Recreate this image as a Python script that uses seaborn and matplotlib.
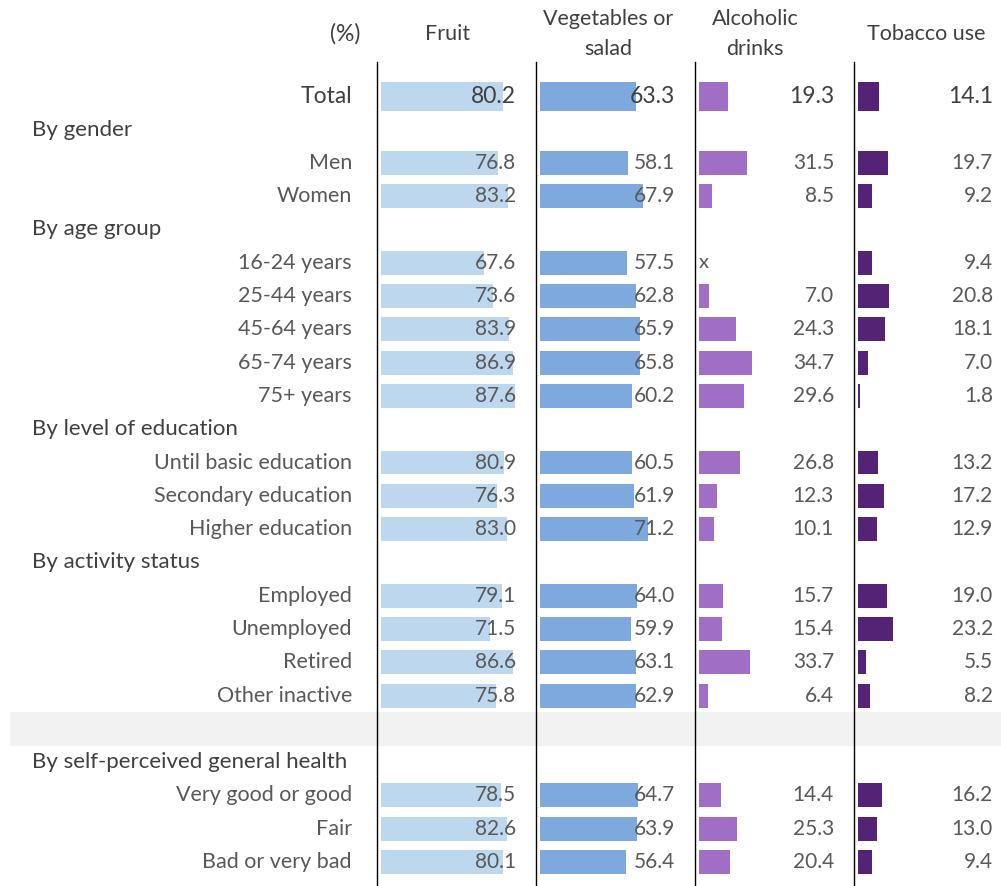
import numpy as np
import pandas as pd
import matplotlib
matplotlib.use("Agg")
import matplotlib.pyplot as plt
import seaborn as sns
from matplotlib.transforms import blended_transform_factory

sns.set_theme(style="white")
plt.rcParams["font.family"] = ["Lato", "DejaVu Sans"]

# ---- data -------------------------------------------------------------
categories = [
    "Total",
    "Men", "Women",
    "16-24 years", "25-44 years", "45-64 years", "65-74 years", "75+ years",
    "Until basic education", "Secondary education", "Higher education",
    "Employed", "Unemployed", "Retired", "Other inactive",
    "Very good or good", "Fair", "Bad or very bad",
]
fruit = [80.2, 76.8, 83.2, 67.6, 73.6, 83.9, 86.9, 87.6, 80.9, 76.3, 83.0,
         79.1, 71.5, 86.6, 75.8, 78.5, 82.6, 80.1]
vegetables = [63.3, 58.1, 67.9, 57.5, 62.8, 65.9, 65.8, 60.2, 60.5, 61.9, 71.2,
              64.0, 59.9, 63.1, 62.9, 64.7, 63.9, 56.4]
alcohol = [19.3, 31.5, 8.5, np.nan, 7.0, 24.3, 34.7, 29.6, 26.8, 12.3, 10.1,
           15.7, 15.4, 33.7, 6.4, 14.4, 25.3, 20.4]
tobacco = [14.1, 19.7, 9.2, 9.4, 20.8, 18.1, 7.0, 1.8, 13.2, 17.2, 12.9,
           19.0, 23.2, 5.5, 8.2, 16.2, 13.0, 9.4]

column_titles = ["Fruit", "Vegetables or\nsalad", "Alcoholic\ndrinks", "Tobacco use"]
unit_label = "(%)"

# grouping: heading followed by its rows
groups = [
    (None, ["Total"]),
    ("By gender", ["Men", "Women"]),
    ("By age group", ["16-24 years", "25-44 years", "45-64 years", "65-74 years", "75+ years"]),
    ("By level of education", ["Until basic education", "Secondary education", "Higher education"]),
    ("By activity status", ["Employed", "Unemployed", "Retired", "Other inactive"]),
    ("", []),  # shaded separator row
    ("By self-perceived general health", ["Very good or good", "Fair", "Bad or very bad"]),
]

# ---- layout of the row axis -------------------------------------------
order = []
heading_rows = []
separator_rows = []
for head, members in groups:
    if head is not None:
        if head:
            heading_rows.append((len(order), head))
            order.append(head)
        else:
            separator_rows.append(len(order))
            order.append("__sep__")
    order.extend(members)

df = pd.DataFrame({"row": categories, "Fruit": fruit, "Vegetables": vegetables,
                   "Alcohol": alcohol, "Tobacco": tobacco})

series_cols = ["Fruit", "Vegetables", "Alcohol", "Tobacco"]
colors = ["#BDD7EE", "#7DA9DE", "#A06EC4", "#542375"]

TEXT = "#595959"
DARK = "#404040"

W, H = 1001, 886
fig = plt.figure(figsize=(W / 100, H / 100), dpi=100)
fig.patch.set_facecolor("white")

top_px = 62
ax_h = (H - top_px) / H
ylim = (len(order) - 1 + 0.72, -1.03)

# background axis for row labels and the shaded separator
bg = fig.add_axes([0, 0, 1, ax_h])
bg.set_xlim(0, W)
bg.set_ylim(*ylim)
bg.axis("off")
for r in separator_rows:
    bg.axhspan(r - 0.51, r + 0.51, xmin=10 / W, xmax=1, color="#F2F2F2", lw=0, zorder=0)
for r, head in heading_rows:
    bg.text(32, r, head, ha="left", va="center", fontsize=16, color=DARK)
for i, name in enumerate(order):
    if name in categories:
        is_total = name == "Total"
        bg.text(352, i, name, ha="right", va="center",
                fontsize=16.5 if is_total else 15.5,
                color=DARK if is_total else TEXT)

# ---- one panel per indicator ------------------------------------------
panel_left = [377, 536, 695, 854]
panel_w = 159
px_per_pct = 1.53
x0 = -3.5 / px_per_pct
x1 = (panel_w - 3.5) / px_per_pct

for col, color, left in zip(series_cols, colors, panel_left):
    ax = fig.add_axes([left / W, 0, panel_w / W, ax_h])
    ax.set_facecolor("none")
    sub = df.dropna(subset=[col])
    sns.barplot(data=sub[sub["row"] != "Total"], x=col, y="row", order=order,
                orient="h", color=color, saturation=1, width=0.72,
                errorbar=None, ax=ax, linewidth=0)
    sns.barplot(data=sub[sub["row"] == "Total"], x=col, y="row", order=order,
                orient="h", color=color, saturation=1, width=0.87,
                errorbar=None, ax=ax, linewidth=0)
    ax.set_xlim(x0, x1)
    ax.set_ylim(*ylim)
    ax.set_xlabel("")
    ax.set_ylabel("")
    ax.set_xticks([])
    ax.set_yticks([])
    for s in ["top", "right", "bottom"]:
        ax.spines[s].set_visible(False)
    ax.spines["left"].set_color("black")
    ax.spines["left"].set_linewidth(1.0)

    tr = blended_transform_factory(ax.transAxes, ax.transData)
    for name, val in zip(df["row"], df[col]):
        i = order.index(name)
        is_total = name == "Total"
        if np.isnan(val):
            ax.text(0, i, "x", ha="left", va="center", fontsize=14.5, color=TEXT)
            continue
        ax.text(139 / panel_w, i, f"{val:.1f}", transform=tr, ha="right",
                va="center", fontsize=16.5 if is_total else 15,
                color=DARK if is_total else TEXT, zorder=5)

# ---- column headers ----------------------------------------------------
header_y = 1 - 34 / H
fig.text(360 / W, header_y, unit_label, ha="right", va="center",
         fontsize=16.5, color=DARK)
for title, cx in zip(column_titles, [448, 608, 755, 926]):
    fig.text(cx / W, header_y, title, ha="center", va="center", fontsize=15.5,
             color=DARK, linespacing=1.6)

fig.savefig("out.png", dpi=100)
